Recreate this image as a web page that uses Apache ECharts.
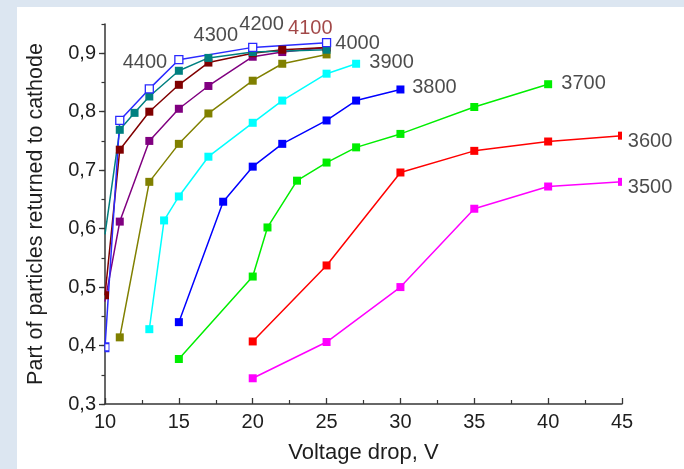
<!DOCTYPE html>
<html>
<head>
<meta charset="utf-8">
<script src="https://cdn.jsdelivr.net/npm/echarts@6/dist/echarts.min.js"></script>
<style>
  html, body { margin: 0; padding: 0; background: #dce6f1; }
  #chart { width: 684px; height: 469px; }
</style>
</head>
<body>
<div id="chart"></div>
<script>
// Fraction of particles returned to the cathode vs. voltage drop,
// one curve per operating value (3500 ... 4400).
const s4400 = [[10, 0.397], [11, 0.785], [13, 0.839], [15, 0.889], [20, 0.910], [25, 0.918]];
const s4300 = [[10, 0.590], [11, 0.769], [12, 0.798], [13, 0.826], [15, 0.870], [17, 0.892], [20, 0.902], [25, 0.906]];
const s4200 = [[10, 0.475], [11, 0.612], [13, 0.750], [15, 0.805], [17, 0.844], [20, 0.894], [22, 0.902], [25, 0.910]];
const s4100 = [[10, 0.486], [11, 0.735], [13, 0.800], [15, 0.846], [17, 0.884], [20, 0.900], [22, 0.906], [25, 0.910]];
const s4000 = [[11, 0.414], [13, 0.680], [15, 0.745], [17, 0.797], [20, 0.853], [22, 0.882], [25, 0.898]];
const s3900 = [[13, 0.428], [14, 0.614], [15, 0.655], [17, 0.723], [20, 0.781], [22, 0.819], [25, 0.865], [27, 0.882]];
const s3800 = [[15, 0.440], [18, 0.646], [20, 0.706], [22, 0.745], [25, 0.785], [27, 0.819], [30, 0.838]];
const s3700 = [[15, 0.377], [20, 0.518], [21, 0.602], [23, 0.682], [25, 0.713], [27, 0.739], [30, 0.762], [35, 0.808], [40, 0.847]];
const s3600 = [[20, 0.407], [25, 0.537], [30, 0.696], [35, 0.733], [40, 0.749], [45, 0.759]];
const s3500 = [[20, 0.344], [25, 0.406], [30, 0.500], [35, 0.634], [40, 0.672], [45, 0.680]];

// Curve names and where their name tags sit (in axis units)
const curveNames = ['4400', '4300', '4200', '4100', '4000', '3900', '3800', '3700', '3600', '3500'];
const tagX = [12.7, 17.5, 20.6, 23.9, 27.1, 29.4, 32.3, 42.4, 46.9, 46.9];
const tagY = [0.885, 0.930, 0.950, 0.943, 0.916, 0.885, 0.841, 0.848, 0.749, 0.670];

const xTicks = [10, 15, 20, 25, 30, 35, 40, 45];
const yTicks = [0.3, 0.4, 0.5, 0.6, 0.7, 0.8, 0.9];
const X_MIN = 10, X_MAX = 45;

const FONT = '"Liberation Sans", Arial, sans-serif';
const TEXT = '#1e1e1e';
const AXIS = '#363636';

const curves = [
  { data: s3500, color: '#ff00ff' },
  { data: s3600, color: '#ff0000' },
  { data: s3700, color: '#00ee00' },
  { data: s3800, color: '#0000ff' },
  { data: s3900, color: '#00ffff' },
  { data: s4000, color: '#808000' },
  { data: s4200, color: '#800080', noEdgeMark: true },
  { data: s4100, color: '#800000' },
  { data: s4300, color: '#008080', noEdgeMark: true },
  { data: s4400, color: '#2a2aff', hollow: true }
];

// Markers sitting on the frame edge are cut in half by the plot border
function toItems(c) {
  return c.data.map(p => {
    if (p[0] === X_MIN) {
      if (c.noEdgeMark) return { value: p, symbol: 'none' };
      return { value: p, symbolSize: [4, 8], symbolOffset: [2, 0] };
    }
    if (p[0] === X_MAX) return { value: p, symbolSize: [4, 8], symbolOffset: [-2, 0] };
    return { value: p };
  });
}

const lineSeries = curves.map(c => ({
  type: 'line',
  data: toItems(c),
  symbol: 'rect',
  symbolSize: 8,
  showAllSymbol: true,
  clip: true,
  lineStyle: { color: c.color, width: 1.5 },
  itemStyle: c.hollow
    ? { color: '#ffffff', borderColor: c.color, borderWidth: 1.3 }
    : { color: c.color, borderWidth: 0 },
  emphasis: { disabled: true },
  z: 2
}));

const tagSeries = {
  type: 'scatter',
  symbolSize: 0,
  clip: false,
  silent: true,
  data: curveNames.map((n, i) => ({
    value: [tagX[i], tagY[i]],
    name: n,
    label: { color: n === '4100' ? '#8b1a1a' : TEXT }
  })),
  label: {
    show: true,
    position: 'inside',
    formatter: p => p.name,
    fontFamily: FONT,
    fontSize: 20
  },
  z: 5
};

const chart = echarts.init(document.getElementById('chart'), null, { renderer: 'canvas' });
chart.setOption({
  animation: false,
  backgroundColor: 'transparent',
  graphic: [{
    type: 'rect',
    left: 17, top: 7,
    shape: { width: 667, height: 462 },
    style: { fill: '#ffffff' },
    z: -10, silent: true
  }],
  grid: { left: 105, right: 62, top: 24, bottom: 64, containLabel: false },
  xAxis: [{
    type: 'value',
    min: X_MIN, max: X_MAX, interval: 5,
    splitLine: { show: false },
    axisLine: { show: true, onZero: false, lineStyle: { color: AXIS, width: 1.5 } },
    axisTick: { show: true, inside: true, length: 6, lineStyle: { color: AXIS, width: 1.3 } },
    minorTick: { show: true, splitNumber: 2, length: 4, lineStyle: { color: AXIS, width: 1.2 } },
    axisLabel: { color: TEXT, fontFamily: FONT, fontSize: 20, margin: 8,
      customValues: xTicks, formatter: v => String(v) },
    name: 'Voltage drop, V',
    nameLocation: 'middle',
    nameGap: 38,
    nameTextStyle: { color: TEXT, fontFamily: FONT, fontSize: 22 }
  }],
  yAxis: [{
    type: 'value',
    min: 0.3, max: 0.95,
    splitLine: { show: false },
    axisLine: { show: true, onZero: false, lineStyle: { color: AXIS, width: 1.5 } },
    axisTick: { show: true, inside: false, length: 6, customValues: yTicks, lineStyle: { color: AXIS, width: 1.3 } },
    axisLabel: { color: TEXT, fontFamily: FONT, fontSize: 20, margin: 9,
      customValues: yTicks, formatter: v => v.toFixed(1).replace('.', ',') },
    name: 'Part of particles returned to cathode',
    nameLocation: 'middle',
    nameGap: 58,
    nameRotate: 90,
    nameTextStyle: { color: TEXT, fontFamily: FONT, fontSize: 21.5 }
  }, {
    // minor ticks every 0.05 along the same scale
    type: 'value',
    min: 0.3, max: 0.95, interval: 0.05,
    position: 'left',
    splitLine: { show: false },
    axisLine: { show: false },
    axisLabel: { show: false },
    axisTick: { show: true, inside: false, length: 3.5, lineStyle: { color: AXIS, width: 1.2 } }
  }],
  series: lineSeries.concat([tagSeries])
});
</script>
</body>
</html>
